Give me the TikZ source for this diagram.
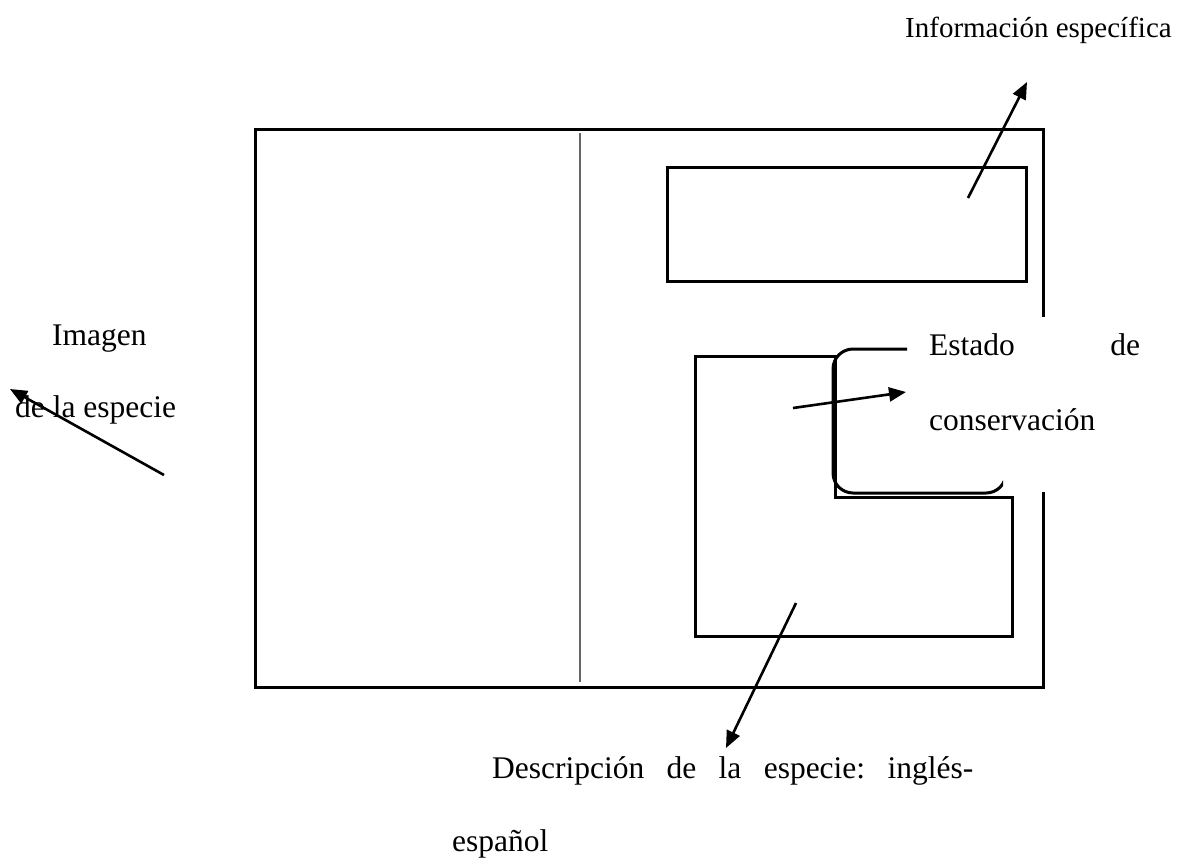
\documentclass[tikz,border=0pt]{standalone}
\usepackage{fontspec}
\setmainfont{Liberation Serif}
\usetikzlibrary{arrows.meta}
\begin{document}
\begin{tikzpicture}[x=1pt,y=-1pt,
  frame/.style={line width=3pt,line join=miter},
  divider/.style={line width=1.4pt,draw=black!60},
  pointer/.style={line width=2.6pt,-{Triangle[length=17pt,width=14pt]}},
  label/.style={inner sep=0pt,anchor=base west,font=\fontsize{31.5}{36}\selectfont}]
\useasboundingbox (0,0) rectangle (1201,857);
% outer frame with gap on the right
\draw[frame] (1043,317) -- (1043,129) -- (255,129) -- (255,687) -- (1043,687) -- (1043,492);
% divider
\draw[divider] (580,133) -- (580,682);
% top box
\draw[frame] (667,167) rectangle (1026,281);
% L-shaped box
\draw[frame] (695,356) -- (835,356) -- (835,497) -- (1012,497) -- (1012,636) -- (695,636) -- cycle;
% rounded callout (partly hidden behind its text)
\begin{scope}
\clip (800,330) rectangle (1003,489) (800,489) rectangle (1003,500);
\draw[frame,rounded corners=20pt] (907,349) -- (833,349) -- (833,493) -- (1006,493) -- (1006,470);
\end{scope}
% labels
\node[label,font=\fontsize{29}{34}\selectfont] (info) at (905,37) {Información específica};
\node[label] (imagen) at (52,345) {Imagen};
\node[label] (especie) at (15,417) {de la especie};
\node[label] (estado) at (929,355) {\hbox to 211pt{Estado\hfill de}};
\node[label] (conserv) at (929,430) {conservación};
\node[label] (descr) at (492,778) {\hbox to 481pt{Descripción\hfill de\hfill la\hfill especie:\hfill inglés-}};
\node[label] (espanol) at (452,851) {español};
% arrow ends
\coordinate (infoTail) at (968,198);
\coordinate (infoTip) at (1027,82);
\coordinate (imgTail) at (164,475);
\coordinate (imgTip) at (10,389);
\coordinate (estTail) at (793,408);
\coordinate (estTip) at (906,392);
\coordinate (desTail) at (796,603);
\coordinate (desTip) at (726,748);
\draw[pointer] (infoTail) -- (infoTip);
\draw[pointer] (imgTail) -- (imgTip);
\draw[pointer] (estTail) -- (estTip);
\draw[pointer] (desTail) -- (desTip);
\end{tikzpicture}
\end{document}
